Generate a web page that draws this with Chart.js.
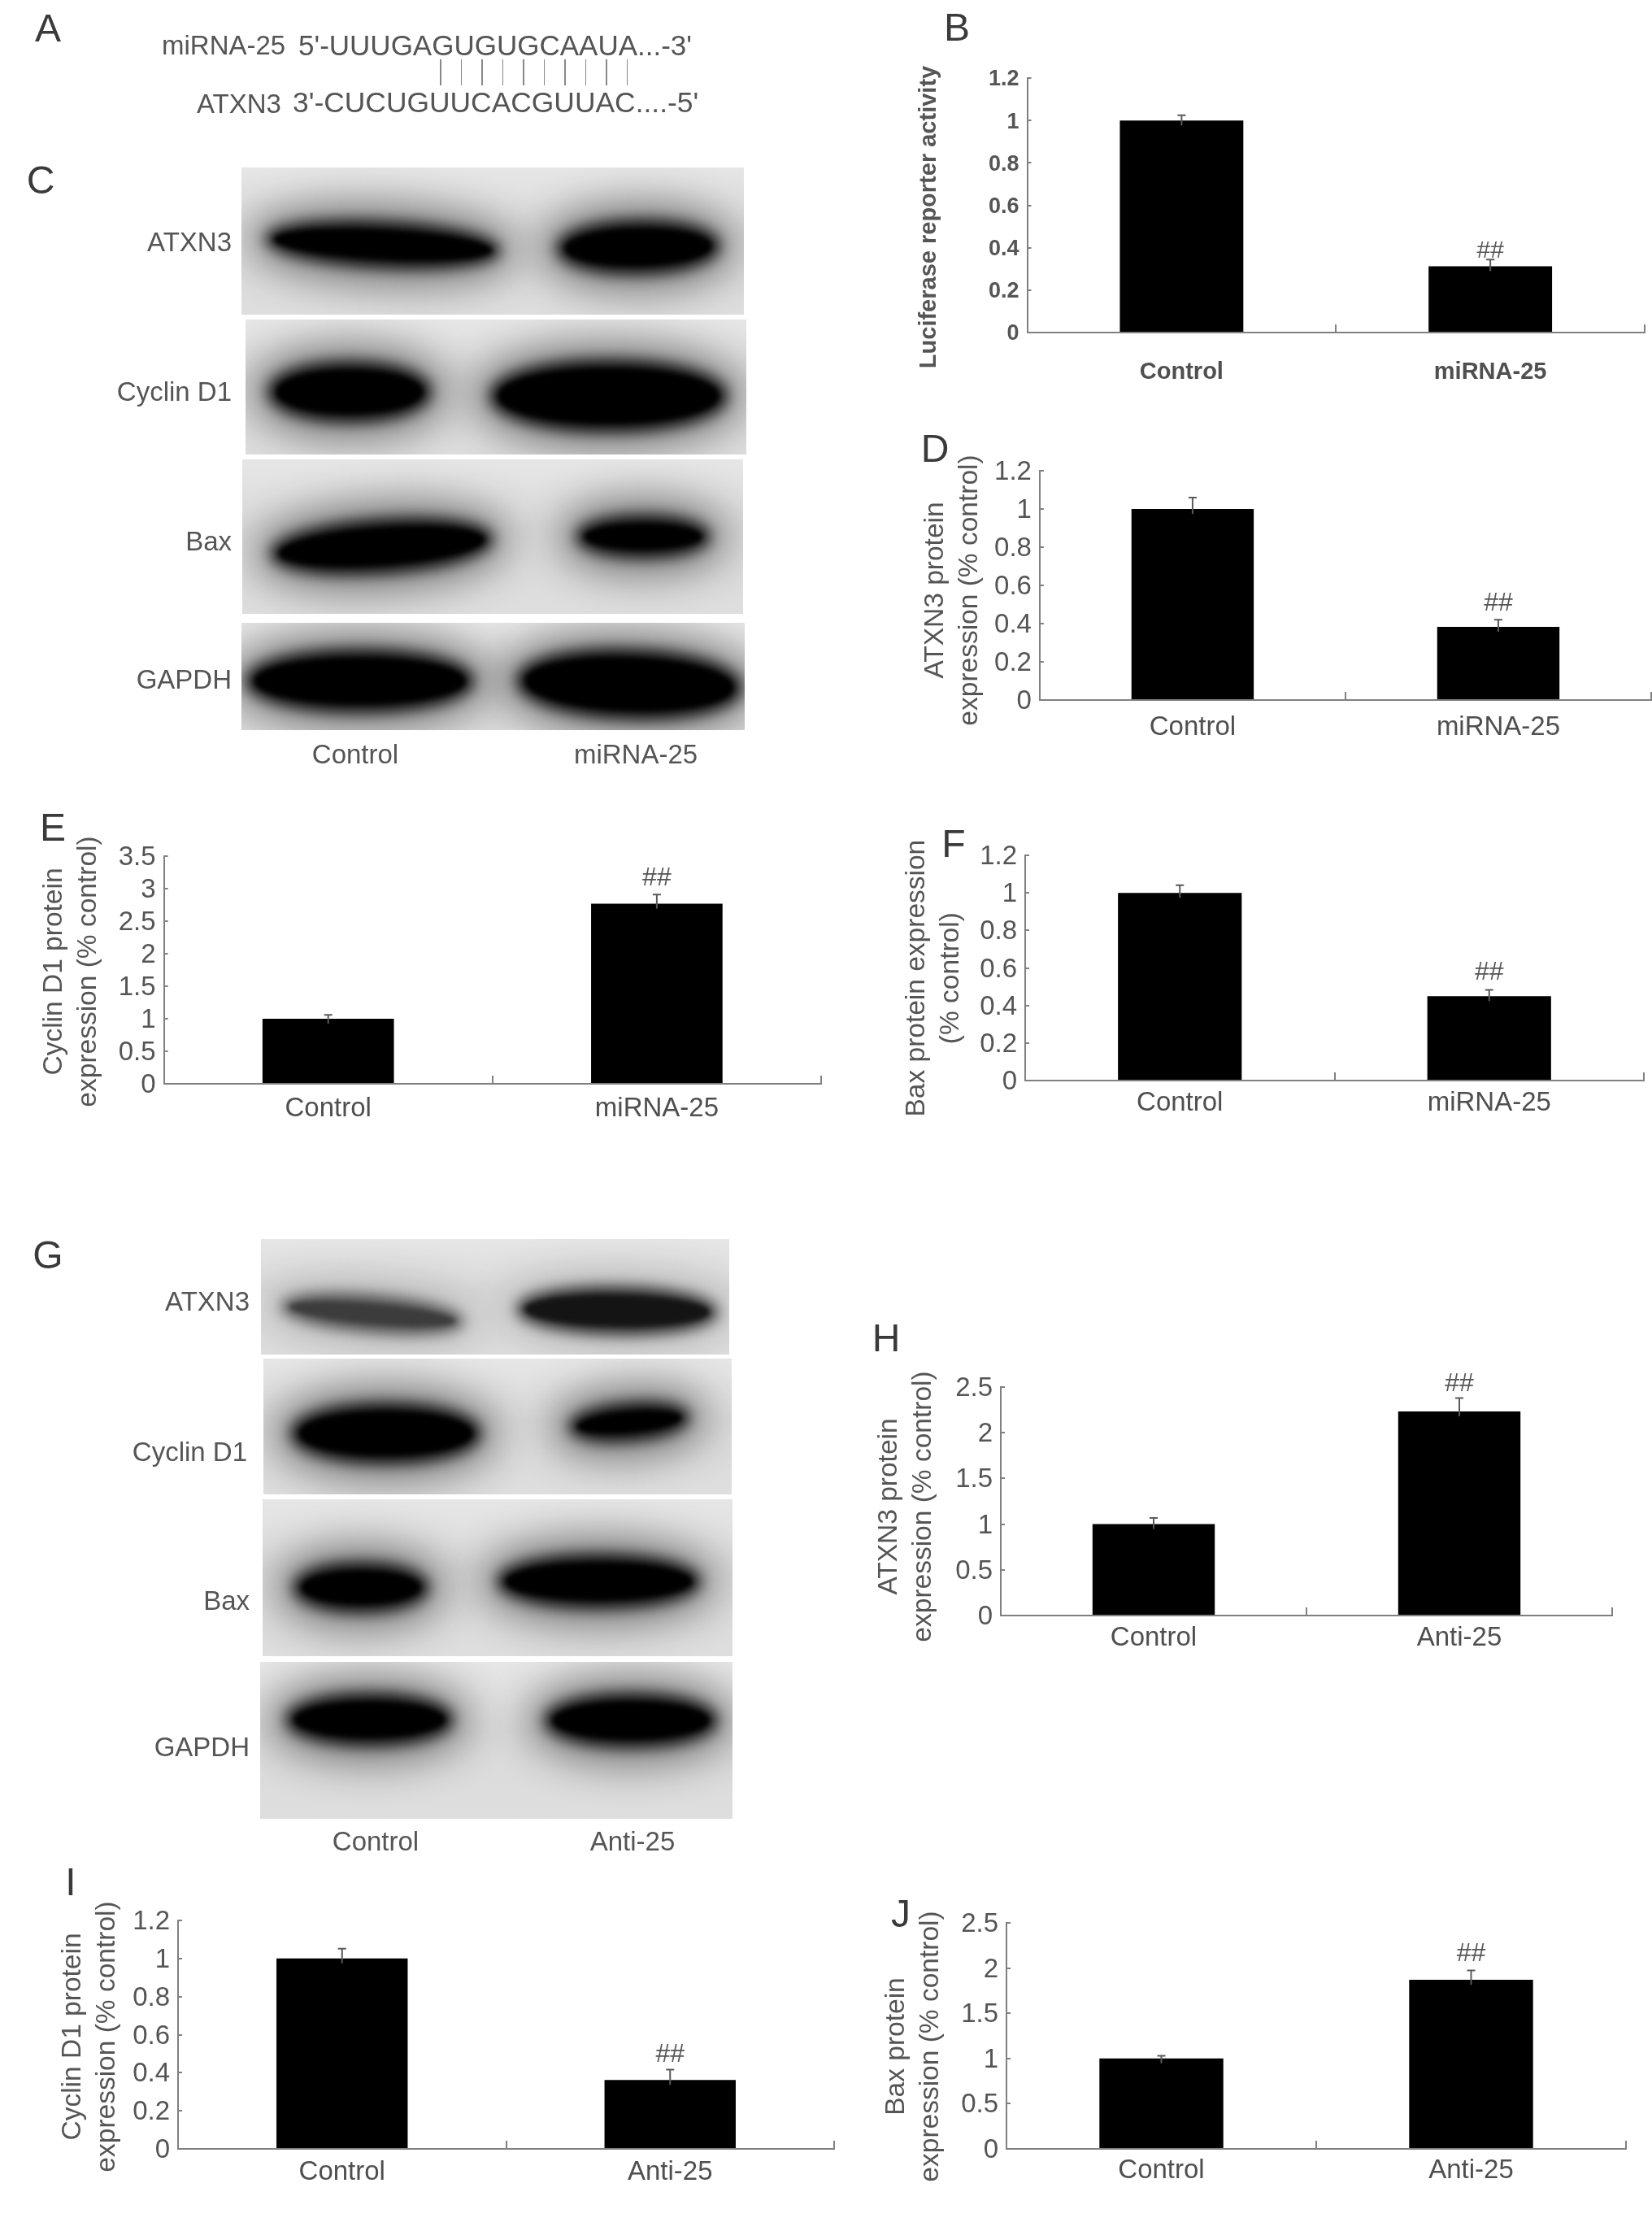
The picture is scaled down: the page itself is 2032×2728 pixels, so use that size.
<!DOCTYPE html>
<html>
<head>
<meta charset="utf-8">
<title>miRNA-25 and ATXN3</title>
<script src="https://cdn.jsdelivr.net/npm/chart.js@4"></script>
<style>
  html, body { margin: 0; padding: 0; background: #fff; overflow: hidden; }
  #page { position: relative; width: 2032px; height: 2728px; overflow: hidden; filter: blur(0.7px);
          font-family: "Liberation Sans", Arial, sans-serif; color: #555; }
  #page canvas { position: absolute; }
  .txt { position: absolute; white-space: nowrap; line-height: 1; }
  .letter { position: absolute; font-size: 48px; line-height: 1; color: #3a3a3a; transform: translate(-50%, -50%); }
  .pair { position: absolute; width: 1.5px; background: #888; }
  .blot { position: absolute; overflow: hidden; background: linear-gradient(#e6e6e6, #dadada 45%, #dedede); }
  .band { position: absolute; border-radius: 48%; filter: blur(3px); }
</style>
</head>
<body>
<div id="page"></div>
<script>
// categories
const miRnaGroups = ['Control', 'miRNA-25'];
const antiGroups = ['Control', 'Anti-25'];

// y axis ticks
const ticksTo12 = [0, 0.2, 0.4, 0.6, 0.8, 1, 1.2];
const ticksTo25 = [0, 0.5, 1, 1.5, 2, 2.5];
const ticksTo35 = [0, 0.5, 1, 1.5, 2, 2.5, 3, 3.5];

// bar heights and top of error bar
const luciferaseValues = [1, 0.312];
const luciferaseErrors = [1.025, 0.344];
const atxn3MiValues = [1, 0.383];
const atxn3MiErrors = [1.06, 0.42];
const cyclinMiValues = [1, 2.77];
const cyclinMiErrors = [1.06, 2.91];
const baxMiValues = [1, 0.45];
const baxMiErrors = [1.041, 0.483];
const atxn3AntiValues = [1, 2.234];
const atxn3AntiErrors = [1.068, 2.38];
const cyclinAntiValues = [1, 0.362];
const cyclinAntiErrors = [1.052, 0.416];
const baxAntiValues = [1, 1.87];
const baxAntiErrors = [1.03, 1.975];

const page = document.getElementById('page');

function addText(text, x, y, size, align, color) {
  const el = document.createElement('div');
  el.className = 'txt';
  el.textContent = text;
  el.style.left = x + 'px';
  el.style.top = y + 'px';
  el.style.fontSize = size + 'px';
  el.style.color = color || '#555';
  const dx = align === 'right' ? '-100%' : align === 'center' ? '-50%' : '0';
  el.style.transform = 'translate(' + dx + ', -50%)';
  page.appendChild(el);
}

// panel letters
[['A', 59, 35], ['B', 1177, 34], ['C', 50, 222], ['D', 1150, 552], ['E', 65, 1018], ['F', 1173, 1038],
 ['G', 59, 1544], ['H', 1090, 1646], ['I', 87, 2315], ['J', 1108, 2354]].forEach(l => {
  const el = document.createElement('div');
  el.className = 'letter';
  el.textContent = l[0];
  el.style.left = l[1] + 'px';
  el.style.top = l[2] + 'px';
  page.appendChild(el);
});

// panel A sequences
addText('miRNA-25', 199, 55, 33, 'left');
addText("5'-UUUGAGUGUGCAAUA...-3'", 367, 55, 35, 'left');
addText('ATXN3', 242, 127, 33, 'left');
addText("3'-CUCUGUUCACGUUAC....-5'", 360, 127, 35.4, 'left');
for (let i = 0; i < 10; i++) {
  const line = document.createElement('div');
  line.className = 'pair';
  line.style.left = (541 + i * 25.5) + 'px';
  line.style.top = '73px';
  line.style.height = '32px';
  page.appendChild(line);
}

// western blot strips: x, y, w, h, then bands as x, y, w, h, tilt, shade
function addBlot(x, y, w, h, bands) {
  const strip = document.createElement('div');
  strip.className = 'blot';
  strip.style.cssText = 'left:' + x + 'px;top:' + y + 'px;width:' + w + 'px;height:' + h + 'px';
  bands.forEach(b => {
    const band = document.createElement('div');
    band.className = 'band';
    const shade = b[5] || 0;
    band.style.cssText = 'left:' + (b[0] - x) + 'px;top:' + (b[1] - y) + 'px;width:' + b[2] + 'px;height:' + b[3] + 'px;' +
      'background:rgb(' + shade + ',' + shade + ',' + shade + ');transform:rotate(' + (b[4] || 0) + 'deg);' +
      'box-shadow:0 0 16px 10px rgba(' + shade + ',' + shade + ',' + shade + ',.85),0 0 50px 30px rgba(0,0,0,' + (shade ? .16 : .45) + ')';
    strip.appendChild(band);
  });
  page.appendChild(strip);
}

addBlot(297, 206, 618, 181, [[336, 282, 270, 38, 3], [694, 280, 182, 48, -1]]);
addBlot(302, 393, 616, 166, [[339, 454, 182, 56, 0], [612, 452, 273, 70, 0]]);
addBlot(298, 565, 616, 190, [[342, 648, 255, 48, -4], [718, 643, 146, 34, 0]]);
addBlot(297, 766, 619, 132, [[312, 808, 261, 59, 0], [645, 808, 258, 67, 2]]);
addBlot(321, 1524, 576, 142, [[355, 1603, 206, 26, 5, 60], [645, 1592, 228, 40, 1, 20]]);
addBlot(324, 1671, 576, 167, [[367, 1735, 215, 56, 0], [709, 1735, 130, 28, -5]]);
addBlot(323, 1844, 578, 193, [[370, 1931, 148, 43, 0], [621, 1921, 231, 48, 0]]);
addBlot(320, 2044, 581, 193, [[361, 2092, 187, 46, 0], [679, 2092, 194, 48, 0]]);

// blot row labels
[['ATXN3', 297], ['Cyclin D1', 481], ['Bax', 665], ['GAPDH', 835]].forEach(r => addText(r[0], 285, r[1], 33, 'right'));
addText('Control', 437, 927, 33, 'center');
addText('miRNA-25', 782, 927, 33, 'center');
[['ATXN3', 307, 1600], ['Cyclin D1', 304, 1785], ['Bax', 307, 1968], ['GAPDH', 307, 2148]].forEach(r => addText(r[0], r[1], r[2], 33, 'right'));
addText('Control', 462, 2264, 33, 'center');
addText('Anti-25', 778, 2264, 33, 'center');

// error bars and the ## mark over the second bar
const errorMarks = {
  id: 'errorMarks',
  afterDatasetsDraw(chart, args, opts) {
    const ctx = chart.ctx;
    const bars = chart.getDatasetMeta(0).data;
    const y = chart.scales.y;
    ctx.save();
    ctx.strokeStyle = '#5a5a5a';
    ctx.lineWidth = 2;
    bars.forEach((bar, i) => {
      const top = y.getPixelForValue(opts.errors[i]);
      ctx.beginPath();
      ctx.moveTo(bar.x, bar.y + 6);
      ctx.lineTo(bar.x, top);
      ctx.moveTo(bar.x - 5, top);
      ctx.lineTo(bar.x + 5, top);
      ctx.stroke();
    });
    ctx.fillStyle = '#555';
    ctx.font = opts.hashSize + 'px "Liberation Sans"';
    ctx.textAlign = 'center';
    ctx.textBaseline = 'middle';
    ctx.fillText('##', bars[1].x, y.getPixelForValue(opts.errors[1]) - opts.hashGap);
    ctx.restore();
  }
};

// the y title is not always centred on the axis in the figure
const titleShift = {
  id: 'titleShift',
  afterLayout(chart, args, opts) {
    const scale = chart.scales.y;
    if (scale.titleShifted) return;
    scale.titleShifted = true;
    const drawTitle = scale.drawTitle;
    scale.drawTitle = function () {
      chart.ctx.save();
      chart.ctx.translate(0, opts.shift);
      drawTitle.call(scale);
      chart.ctx.restore();
    };
  }
};

function drawBars(p) {
  const padTop = 44, belowAxis = 62;
  const bold = p.bold ? 'bold' : 'normal';
  const titleSize = p.bold ? 29 : 33.5;
  const canvasLeft = p.line1 - 21;
  const canvas = document.createElement('canvas');
  canvas.width = p.right - canvasLeft + 2;
  canvas.height = p.bottom - p.top + padTop + belowAxis;
  canvas.style.left = canvasLeft + 'px';
  canvas.style.top = (p.top - padTop) + 'px';
  page.appendChild(canvas);

  new Chart(canvas.getContext('2d'), {
    type: 'bar',
    data: {
      labels: p.labels,
      datasets: [{ data: p.values, backgroundColor: '#000', barPercentage: 0.4, categoryPercentage: 1 }]
    },
    plugins: [errorMarks, titleShift],
    options: {
      responsive: false,
      animation: false,
      layout: { padding: { top: padTop, right: 2, left: 0, bottom: 0 } },
      plugins: {
        legend: { display: false },
        tooltip: { enabled: false },
        errorMarks: { errors: p.errors, hashGap: p.hashGap, hashSize: p.bold ? 30 : 32 },
        titleShift: { shift: p.titleMid - (p.top + p.bottom) / 2 }
      },
      scales: {
        x: {
          afterFit: s => { s.height = belowAxis; },
          border: { color: '#808080', width: 2 },
          grid: { offset: true, drawOnChartArea: false, color: '#808080', lineWidth: 2, tickLength: -10 },
          ticks: {
            color: '#4f4f4f', maxRotation: 0, autoSkip: false, padding: p.labelGap + 2.5,
            font: { family: 'Liberation Sans', size: p.bold ? 29 : 33, weight: bold }
          }
        },
        y: {
          min: 0,
          max: p.ticks[p.ticks.length - 1],
          afterBuildTicks: s => { s.ticks = p.ticks.map(value => ({ value })); },
          afterFit: s => { s.width = p.left - canvasLeft; },
          border: { color: '#808080', width: 2 },
          grid: { drawOnChartArea: false, color: '#808080', lineWidth: 2, tickLength: -5 },
          ticks: {
            color: '#555', padding: 15, autoSkip: false, labelOffset: 2,
            callback: v => String(v),
            font: { family: 'Liberation Sans', size: p.bold ? 27 : 33, weight: bold }
          },
          title: {
            display: true, text: p.title, color: '#555', padding: 0,
            font: { family: 'Liberation Sans', size: titleSize, weight: bold, lineHeight: 42 / titleSize }
          }
        }
      }
    }
  });
}

drawBars({ labels: miRnaGroups, values: luciferaseValues, errors: luciferaseErrors, ticks: ticksTo12, bold: true,
  title: 'Luciferase reporter activity', line1: 1143, titleMid: 267,
  left: 1263.5, right: 2023, top: 95.7, bottom: 409.3, labelGap: 39, hashGap: 11 });
drawBars({ labels: miRnaGroups, values: atxn3MiValues, errors: atxn3MiErrors, ticks: ticksTo12,
  title: ['ATXN3 protein', 'expression (% control)'], line1: 1150.5, titleMid: 726,
  left: 1278.4, right: 2031, top: 579, bottom: 861, labelGap: 22, hashGap: 20 });
drawBars({ labels: miRnaGroups, values: cyclinMiValues, errors: cyclinMiErrors, ticks: ticksTo35,
  title: ['Cyclin D1 protein', 'expression (% control)'], line1: 67, titleMid: 1195,
  left: 201.6, right: 1010, top: 1052.7, bottom: 1333.3, labelGap: 19, hashGap: 20 });
drawBars({ labels: miRnaGroups, values: baxMiValues, errors: baxMiErrors, ticks: ticksTo12,
  title: ['Bax protein expression', '(% control)'], line1: 1128, titleMid: 1203,
  left: 1261, right: 2022, top: 1051.7, bottom: 1329, labelGap: 16, hashGap: 21 });
drawBars({ labels: antiGroups, values: atxn3AntiValues, errors: atxn3AntiErrors, ticks: ticksTo25,
  title: ['ATXN3 protein', 'expression (% control)'], line1: 1094, titleMid: 1853,
  left: 1231, right: 1983.6, top: 1705.7, bottom: 1987.3, labelGap: 16, hashGap: 17 });
drawBars({ labels: antiGroups, values: cyclinAntiValues, errors: cyclinAntiErrors, ticks: ticksTo12,
  title: ['Cyclin D1 protein', 'expression (% control)'], line1: 90, titleMid: 2505,
  left: 219, right: 1026, top: 2362, bottom: 2643, labelGap: 17, hashGap: 18 });
drawBars({ labels: antiGroups, values: baxAntiValues, errors: baxAntiErrors, ticks: ticksTo25,
  title: ['Bax protein', 'expression (% control)'], line1: 1103, titleMid: 2517,
  left: 1238, right: 2000.5, top: 2365, bottom: 2643, labelGap: 15, hashGap: 20 });
</script>
</body>
</html>
